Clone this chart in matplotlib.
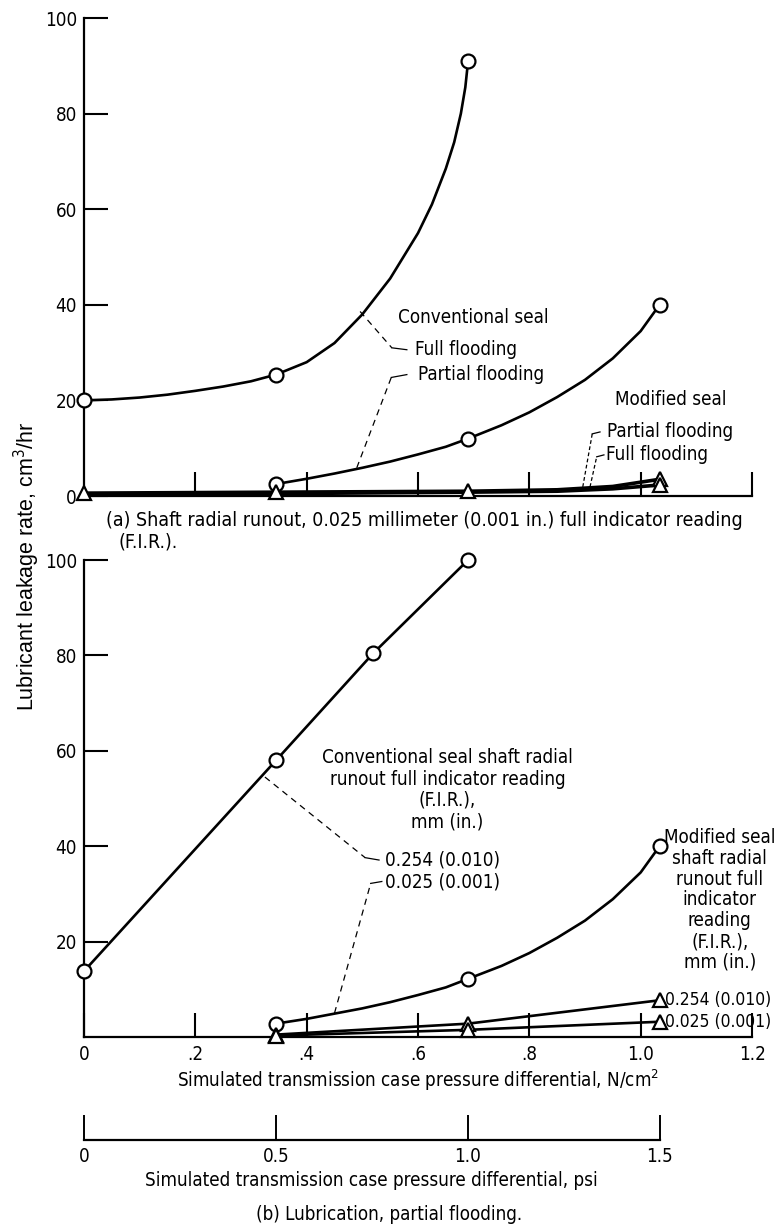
import matplotlib
matplotlib.use('Agg')
import matplotlib.pyplot as plt
import matplotlib.font_manager as fm

# narrow font if there is one, else Liberation Sans
fonts = fm.fontManager.ttflist
fs = 14
if any(f.name == 'Liberation Sans Narrow' for f in fonts):
    plt.rcParams['font.family'] = ['Liberation Sans Narrow', 'DejaVu Sans']
elif any(f.name == 'DejaVu Sans' and 'Condensed' in f.fname for f in fonts):
    plt.rcParams['font.family'] = ['DejaVu Sans']
    plt.rcParams['font.stretch'] = 'condensed'
    fs = 13.5
else:
    plt.rcParams['font.family'] = ['Liberation Sans', 'DejaVu Sans']
    fs = 13
plt.rcParams['font.size'] = fs
plt.rcParams['mathtext.fontset'] = 'custom'

# ---- (a) shaft radial runout 0.025 mm ----
# conventional seal, full flooding
conv_full_px = [0.0, 0.345, 0.69]
conv_full_py = [20.0, 25.4, 91.0]
conv_full_cx = [0.0, 0.05, 0.1, 0.15, 0.2, 0.25, 0.3, 0.345, 0.4, 0.45, 0.5, 0.55,
                0.6, 0.625, 0.65, 0.665, 0.677, 0.685, 0.69]
conv_full_cy = [20.0, 20.2, 20.6, 21.2, 22.0, 22.9, 24.0, 25.4, 28.0, 32.0, 38.0, 45.5,
                55.0, 61.0, 68.5, 74.0, 80.0, 85.5, 91.0]
# conventional seal, partial flooding
conv_part_px = [0.345, 0.69, 1.034]
conv_part_py = [2.5, 12.0, 40.0]
conv_part_cx = [0.345, 0.4, 0.45, 0.5, 0.55, 0.6, 0.65, 0.69, 0.75, 0.8, 0.85, 0.9,
                0.95, 1.0, 1.034]
conv_part_cy = [2.5, 3.6, 4.7, 5.9, 7.2, 8.7, 10.3, 12.0, 14.8, 17.5, 20.7, 24.3,
                28.8, 34.5, 40.0]
# modified seal
mod_full_x = [0.0, 0.345, 0.69, 0.85, 0.95, 1.034]
mod_full_y = [0.6, 0.8, 1.0, 1.3, 2.0, 3.5]
mod_part_x = [0.0, 0.345, 0.69, 0.85, 0.95, 1.034]
mod_part_y = [0.4, 0.5, 0.8, 1.0, 1.5, 2.3]

# ---- (b) partial flooding ----
conv254_x = [0.0, 0.345, 0.52, 0.69]
conv254_y = [13.8, 58.0, 80.5, 100.0]
conv025_px = [0.345, 0.69, 1.034]
conv025_py = [2.8, 12.2, 40.0]
conv025_cx = [0.345, 0.4, 0.45, 0.5, 0.55, 0.6, 0.65, 0.69, 0.75, 0.8, 0.85, 0.9,
              0.95, 1.0, 1.034]
conv025_cy = [2.8, 3.8, 4.9, 6.0, 7.3, 8.8, 10.4, 12.2, 14.9, 17.6, 20.8, 24.4,
              28.9, 34.5, 40.0]
mod254_x = [0.345, 0.69, 1.034]
mod254_y = [0.5, 2.8, 7.7]
mod025_x = [0.345, 0.69, 1.034]
mod025_y = [0.3, 1.5, 3.2]

xticks_top = [0.2, 0.4, 0.6, 0.8, 1.0, 1.2]
xticks_bot = [0, 0.2, 0.4, 0.6, 0.8, 1.0, 1.2]
xticklabels_bot = ['0', '.2', '.4', '.6', '.8', '1.0', '1.2']
yticks = [0, 20, 40, 60, 80, 100]
psi_ticks = [0, 0.5, 1.0, 1.5]
psi_labels = ['0', '0.5', '1.0', '1.5']

W, H = 778, 1232
fig = plt.figure(figsize=(W / 100, H / 100), dpi=100)

def box(l, t, r, b):
    return [l / W, 1 - b / H, (r - l) / W, (b - t) / H]

lw = 1.9
mk = dict(ms=10, mfc='white', mec='black', mew=1.6, ls='none', clip_on=False, zorder=5)

def style(ax):
    for s in ['top', 'right']:
        ax.spines[s].set_visible(False)
    for s in ['left', 'bottom']:
        ax.spines[s].set_linewidth(1.6)
    ax.tick_params(direction='in', length=17, width=1.5, pad=5)
    ax.set_xlim(0, 1.2)
    ax.set_ylim(0, 100)

# top panel
ax1 = fig.add_axes(box(84, 18, 752, 496))
style(ax1)
ax1.set_xticks(xticks_top)
ax1.set_xticklabels([])
ax1.set_yticks(yticks)
ax1.plot(conv_full_cx, conv_full_cy, 'k-', lw=lw)
ax1.plot(conv_full_px, conv_full_py, 'o', **mk)
ax1.plot(conv_part_cx, conv_part_cy, 'k-', lw=lw)
ax1.plot(conv_part_px, conv_part_py, 'o', **mk)
ax1.plot(mod_full_x, mod_full_y, 'k-', lw=2.6, clip_on=False)
ax1.plot(mod_part_x, mod_part_y, 'k-', lw=2.6, clip_on=False)
ax1.plot(mod_full_x[:3] + mod_full_x[-1:], mod_full_y[:3] + mod_full_y[-1:], '^', **mk)
ax1.plot(mod_part_x[-1:], mod_part_y[-1:], '^', **mk)

ax1.text(0.564, 37.3, 'Conventional seal', va='center')
ax1.text(0.595, 30.6, 'Full flooding', va='center')
ax1.text(0.600, 25.4, 'Partial flooding', va='center')
ax1.plot([0.496, 0.553], [38.6, 31.0], 'k--', lw=0.9, dashes=(5, 4))
ax1.plot([0.553, 0.580], [31.0, 30.6], 'k-', lw=0.9)
ax1.plot([0.49, 0.552], [5.9, 24.8], 'k--', lw=0.9, dashes=(5, 4))
ax1.plot([0.552, 0.580], [24.8, 25.4], 'k-', lw=0.9)
ax1.text(0.954, 20.1, 'Modified seal', va='center')
ax1.text(0.940, 13.4, 'Partial flooding', va='center')
ax1.text(0.937, 8.6, 'Full flooding', va='center')
ax1.plot([0.896, 0.913], [1.9, 13.0], 'k--', lw=0.9, dashes=(3, 2))
ax1.plot([0.913, 0.927], [13.0, 13.4], 'k-', lw=0.9)
ax1.plot([0.909, 0.921], [1.9, 8.2], 'k--', lw=0.9, dashes=(3, 2))
ax1.plot([0.921, 0.934], [8.2, 8.6], 'k-', lw=0.9)

fig.text(106 / W, 1 - 520 / H,
         '(a) Shaft radial runout, 0.025 millimeter (0.001 in.) full indicator reading',
         va='center', fontsize=fs + 0.5)
fig.text(118 / W, 1 - 542 / H, '(F.I.R.).', va='center', fontsize=fs + 0.5)

# bottom panel
ax2 = fig.add_axes(box(84, 560, 752, 1037))
style(ax2)
ax2.set_xticks(xticks_bot)
ax2.set_xticklabels(xticklabels_bot)
ax2.set_yticks(yticks[1:])
ax2.tick_params(axis='x', pad=6)
ax2.plot(conv254_x, conv254_y, 'k-', lw=lw)
ax2.plot(conv254_x, conv254_y, 'o', **mk)
ax2.plot(conv025_cx, conv025_cy, 'k-', lw=lw)
ax2.plot(conv025_px, conv025_py, 'o', **mk)
ax2.plot(mod254_x, mod254_y, 'k-', lw=lw)
ax2.plot(mod254_x, mod254_y, '^', **mk)
ax2.plot(mod025_x, mod025_y, 'k-', lw=lw)
ax2.plot(mod025_x, mod025_y, '^', **mk)
ax2.set_xlabel('Simulated transmission case pressure differential, N/cm$^2$', labelpad=2)

ax2.text(0.653, 60.5, 'Conventional seal shaft radial\nrunout full indicator reading\n(F.I.R.),\nmm (in.)',
         ha='center', va='top', linespacing=1.15)
ax2.text(0.540, 37.1, '0.254 (0.010)', va='center')
ax2.text(0.540, 32.5, '0.025 (0.001)', va='center')
ax2.plot([0.325, 0.505], [54.5, 37.6], 'k--', lw=0.9, dashes=(5, 4))
ax2.plot([0.505, 0.530], [37.6, 37.1], 'k-', lw=0.9)
ax2.plot([0.45, 0.515], [5.0, 32.2], 'k--', lw=0.9, dashes=(5, 4))
ax2.plot([0.515, 0.535], [32.2, 32.6], 'k-', lw=0.9)
ax2.text(1.142, 43.8, 'Modified seal\nshaft radial\nrunout full\nindicator\nreading\n(F.I.R.),\nmm (in.)',
         ha='center', va='top', linespacing=1.12)
ax2.text(1.044, mod254_y[-1], '0.254 (0.010)', va='center', fontsize=fs - 1)
ax2.text(1.044, mod025_y[-1], '0.025 (0.001)', va='center', fontsize=fs - 1)

# psi scale
psi_w = 1.5 * 0.6895 / 1.2 * (752 - 84)
ax3 = fig.add_axes(box(84, 1114, 84 + psi_w, 1140))
for s in ['top', 'right', 'left']:
    ax3.spines[s].set_visible(False)
ax3.spines['bottom'].set_linewidth(1.6)
ax3.set_xlim(0, 1.5)
ax3.set_yticks([])
ax3.set_xticks(psi_ticks)
ax3.set_xticklabels(psi_labels)
ax3.tick_params(axis='x', direction='in', length=18, width=1.4, pad=5)
ax3.patch.set_alpha(0)
ax3.set_xlabel('Simulated transmission case pressure differential, psi', labelpad=4)

fig.text(0.5, 1 - 1214 / H, '(b) Lubrication, partial flooding.', ha='center', va='center')

fig.text(27 / W, 1 - 566 / H, 'Lubricant leakage rate, cm$^3$/hr', rotation=90,
         ha='center', va='center', fontsize=15.5, family=['Liberation Sans', 'DejaVu Sans'])

fig.savefig('out.png', dpi=100)
